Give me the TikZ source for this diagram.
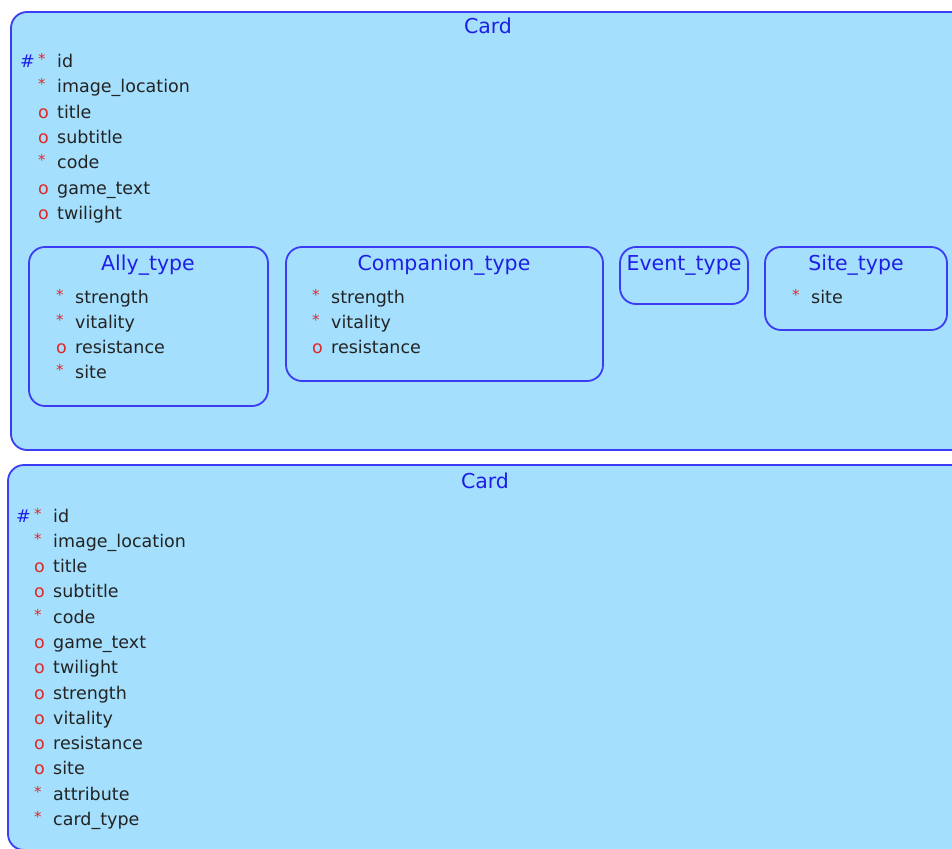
\documentclass[tikz,border=0pt]{standalone}
\usepackage{fontspec}
\setmainfont{DejaVu Sans}
\definecolor{entfill}{RGB}{164,224,253}
\definecolor{entline}{RGB}{60,60,245}
\definecolor{ttl}{RGB}{30,30,230}
\definecolor{mark}{RGB}{225,40,40}
\definecolor{txt}{RGB}{35,35,35}
\newcommand{\reqmark}{\raisebox{3pt}{\fontsize{15}{15}\selectfont *}}
\tikzset{
  entity/.style={draw=entline, line width=1.8pt, fill=entfill, rounded corners=16pt},
  ttlnode/.style={text=ttl, anchor=base, inner sep=0pt, font=\fontsize{20.5}{24}\selectfont},
  attr/.style={text=txt, anchor=base west, inner sep=0pt},
  mk/.style={text=mark, anchor=base west, inner sep=0pt},
  pk/.style={text=ttl, anchor=base west, inner sep=0pt},
}
\begin{document}
\begin{tikzpicture}[x=1pt, y=-1pt, font=\fontsize{17.5}{21}\selectfont]
\useasboundingbox (0,0) rectangle (952,848);
\clip (0,0) rectangle (952,848);

% ---- Card with subtypes ----
\draw[entity] (11,12) rectangle (980,450);
\node[ttlnode] (card1) at (488,34) {Card};
\foreach \n/\m/\y in {id/\reqmark/68, image\_location/\reqmark/93, title/o/118, subtitle/o/143,
                      code/\reqmark/168, game\_text/o/194, twilight/o/219}{
  \node[mk] at (38,\y) {\m};
  \node[attr] at (57,\y) {\n};
}
\node[pk] (pk1) at (20,68) {\#};

% Ally_type
\draw[entity] (29,247) rectangle (268,406);
\node[ttlnode] (ally) at (148,270) {Ally\_type};
\foreach \n/\m/\y in {strength/\reqmark/303, vitality/\reqmark/328, resistance/o/353, site/\reqmark/378}{
  \node[mk] at (56,\y) {\m};
  \node[attr] at (75,\y) {\n};
}

% Companion_type
\draw[entity] (286,247) rectangle (603,381);
\node[ttlnode] (comp) at (444,270) {Companion\_type};
\foreach \n/\m/\y in {strength/\reqmark/303, vitality/\reqmark/328, resistance/o/353}{
  \node[mk] at (312,\y) {\m};
  \node[attr] at (331,\y) {\n};
}

% Event_type
\draw[entity] (620,247) rectangle (748,304);
\node[ttlnode] (event) at (684,270) {Event\_type};

% Site_type
\draw[entity] (765,247) rectangle (947,330);
\node[ttlnode] (sitet) at (856,270) {Site\_type};
\node[mk] at (792,303) {\reqmark};
\node[attr] at (811,303) {site};

% ---- Flattened Card ----
\draw[entity] (8,465) rectangle (980,850);
\node[ttlnode] (card2) at (485,488) {Card};
\foreach \n/\m/\y in {id/\reqmark/522, image\_location/\reqmark/547, title/o/572, subtitle/o/597,
                      code/\reqmark/623, game\_text/o/648, twilight/o/673, strength/o/699,
                      vitality/o/724, resistance/o/749, site/o/774, attribute/\reqmark/800,
                      card\_type/\reqmark/825}{
  \node[mk] at (34,\y) {\m};
  \node[attr] at (53,\y) {\n};
}
\node[pk] (pk2) at (16,522) {\#};
\end{tikzpicture}
\end{document}
